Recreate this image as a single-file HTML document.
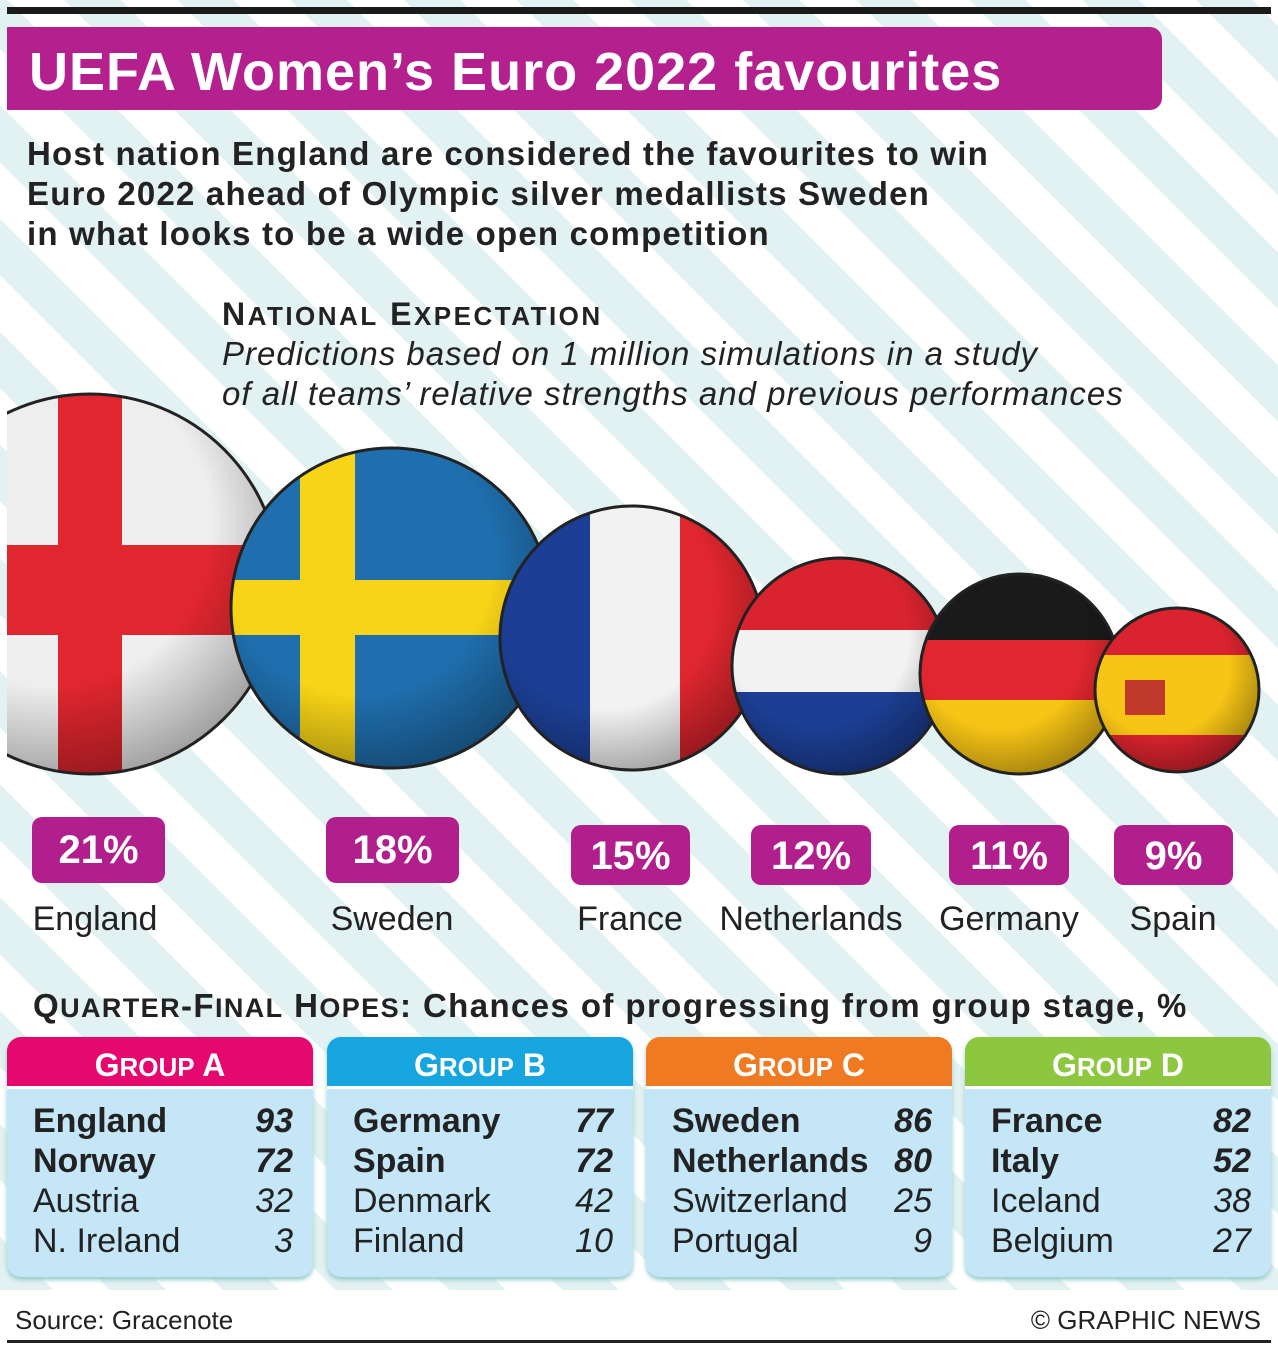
<!DOCTYPE html>
<html><head><meta charset="utf-8"><style>
*{margin:0;padding:0;box-sizing:border-box}
body{width:1278px;height:1350px;position:relative;overflow:hidden;font-family:"Liberation Sans",Arial,sans-serif;color:#222;
background:repeating-linear-gradient(45deg,#fff 0 40px,#e2f1f1 40px 80px);}
.a{position:absolute;white-space:nowrap}
.pill{position:absolute;background:#b01f8c;color:#fff;font-weight:bold;font-size:40px;text-align:center;border-radius:10px;line-height:62px}
.lab{position:absolute;font-size:34px;text-align:center;width:200px}
.g{position:absolute;top:1037px;width:306px;height:240px;border-radius:14px;background:#c4e6f6;box-shadow:0 3px 4px #9cc}
.gh{height:52px;border-radius:14px 14px 0 0;color:#fff;font-weight:bold;font-size:32px;text-align:center;line-height:56px;border-bottom:3px solid #fff}
.row{display:flex;justify-content:space-between;padding:0 20px 0 26px;font-size:34px;line-height:40px}
.row i{font-style:italic}
.b{font-weight:bold}
.gb{padding-top:12px}
</style></head><body>
<div class="a" style="left:7px;top:7px;width:1264px;height:7px;background:#1a1a1a"></div>
<div class="a" style="left:7px;top:27px;width:1155px;height:83px;background:#b5208f;border-radius:0 12px 12px 0;color:#fff;font-weight:bold;font-size:54px;letter-spacing:1px;line-height:90px;padding-left:22px">UEFA Women’s Euro 2022 favourites</div>
<div class="a" style="left:27px;top:134px;font-weight:bold;font-size:33px;letter-spacing:1.2px;line-height:40px">Host nation England are considered the favourites to win<br>Euro 2022 ahead of Olympic silver medallists Sweden<br>in what looks to be a wide open competition</div>
<div class="a" style="left:222px;top:296px;font-weight:bold;font-size:32px;letter-spacing:2.5px">N<span style="font-size:26px">ATIONAL</span> E<span style="font-size:26px">XPECTATION</span></div>
<div class="a" style="left:222px;top:334px;font-style:italic;font-size:33px;letter-spacing:1px;line-height:40px">Predictions based on 1 million simulations in a study<br>of all teams’ relative strengths and previous performances</div>
<svg class="a" style="left:0;top:0" width="1278" height="1350">
<defs>
<clipPath id="c1"><circle cx="90" cy="584" r="190"/></clipPath>
<clipPath id="c2"><circle cx="391" cy="608" r="160"/></clipPath>
<clipPath id="c3"><circle cx="632" cy="638" r="132"/></clipPath>
<clipPath id="c4"><circle cx="840" cy="666" r="108"/></clipPath>
<clipPath id="c5"><circle cx="1020" cy="674" r="100"/></clipPath>
<clipPath id="c6"><circle cx="1177" cy="690" r="82"/></clipPath>
<radialGradient id="sh" cx="0.4" cy="0.35" r="0.7"><stop offset="0.6" stop-color="#000" stop-opacity="0"/><stop offset="1" stop-color="#000" stop-opacity="0.35"/></radialGradient>
<clipPath id="lft"><rect x="7" y="0" width="1271" height="1350"/></clipPath>
</defs>
<g clip-path="url(#lft)">
<g clip-path="url(#c1)"><rect x="-100" y="390" width="400" height="400" fill="#eee"/><rect x="58" y="390" width="64" height="400" fill="#e0262e"/><rect x="-100" y="545" width="400" height="90" fill="#e0262e"/><circle cx="90" cy="584" r="190" fill="url(#sh)"/></g>
<circle cx="90" cy="584" r="190" fill="none" stroke="#222" stroke-width="3"/>
</g>
<g clip-path="url(#c2)"><rect x="230" y="440" width="330" height="340" fill="#1f6fae"/><rect x="300" y="440" width="55" height="340" fill="#f7d417"/><rect x="230" y="580" width="330" height="55" fill="#f7d417"/><circle cx="391" cy="608" r="160" fill="url(#sh)"/></g>
<circle cx="391" cy="608" r="160" fill="none" stroke="#222" stroke-width="3"/>
<g clip-path="url(#c3)"><rect x="500" y="500" width="90" height="280" fill="#1c3f95"/><rect x="590" y="500" width="90" height="280" fill="#f2f2f2"/><rect x="680" y="500" width="90" height="280" fill="#e0262e"/><circle cx="632" cy="638" r="132" fill="url(#sh)"/></g>
<circle cx="632" cy="638" r="132" fill="none" stroke="#222" stroke-width="3"/>
<g clip-path="url(#c4)"><rect x="730" y="555" width="220" height="75" fill="#d9232e"/><rect x="730" y="630" width="220" height="62" fill="#f2f2f2"/><rect x="730" y="692" width="220" height="90" fill="#1c3f95"/><circle cx="840" cy="666" r="108" fill="url(#sh)"/></g>
<circle cx="840" cy="666" r="108" fill="none" stroke="#222" stroke-width="3"/>
<g clip-path="url(#c5)"><rect x="918" y="570" width="205" height="70" fill="#1a1a1a"/><rect x="918" y="640" width="205" height="60" fill="#e0262e"/><rect x="918" y="700" width="205" height="80" fill="#f7c515"/><circle cx="1020" cy="674" r="100" fill="url(#sh)"/></g>
<circle cx="1020" cy="674" r="100" fill="none" stroke="#222" stroke-width="3"/>
<g clip-path="url(#c6)"><rect x="1093" y="605" width="170" height="170" fill="#d9232e"/><rect x="1093" y="655" width="170" height="80" fill="#f7c515"/><rect x="1125" y="680" width="40" height="35" fill="#c0392b"/><circle cx="1177" cy="690" r="82" fill="url(#sh)"/></g>
<circle cx="1177" cy="690" r="82" fill="none" stroke="#222" stroke-width="3"/>
</svg>
<div class="pill" style="left:32px;top:817px;width:133px;height:66px;line-height:66px">21%</div>
<div class="pill" style="left:326px;top:817px;width:133px;height:66px;line-height:66px">18%</div>
<div class="pill" style="left:571px;top:825px;width:119px;height:60px">15%</div>
<div class="pill" style="left:751px;top:825px;width:120px;height:60px">12%</div>
<div class="pill" style="left:949px;top:825px;width:120px;height:60px">11%</div>
<div class="pill" style="left:1114px;top:825px;width:119px;height:60px">9%</div>
<div class="lab" style="left:-5px;top:900px">England</div>
<div class="lab" style="left:292px;top:900px">Sweden</div>
<div class="lab" style="left:530px;top:900px">France</div>
<div class="lab" style="left:711px;top:900px">Netherlands</div>
<div class="lab" style="left:909px;top:900px">Germany</div>
<div class="lab" style="left:1073px;top:900px">Spain</div>
<div class="a" style="left:33px;top:987px;font-weight:bold;font-size:33px;letter-spacing:1.4px">Q<span style="font-size:27px">UARTER</span>-F<span style="font-size:27px">INAL</span> H<span style="font-size:27px">OPES</span>: Chances of progressing from group stage, %</div>
<div class="g" style="left:7px"><div class="gh" style="background:#e5096f">G<span style="font-size:26px">ROUP</span> A</div><div class="gb">
<div class="row b"><span>England</span><i>93</i></div><div class="row b"><span>Norway</span><i>72</i></div><div class="row"><span>Austria</span><i>32</i></div><div class="row"><span>N. Ireland</span><i>3</i></div></div></div>
<div class="g" style="left:327px"><div class="gh" style="background:#16a5de">G<span style="font-size:26px">ROUP</span> B</div><div class="gb">
<div class="row b"><span>Germany</span><i>77</i></div><div class="row b"><span>Spain</span><i>72</i></div><div class="row"><span>Denmark</span><i>42</i></div><div class="row"><span>Finland</span><i>10</i></div></div></div>
<div class="g" style="left:646px"><div class="gh" style="background:#ef7a22">G<span style="font-size:26px">ROUP</span> C</div><div class="gb">
<div class="row b"><span>Sweden</span><i>86</i></div><div class="row b"><span>Netherlands</span><i>80</i></div><div class="row"><span>Switzerland</span><i>25</i></div><div class="row"><span>Portugal</span><i>9</i></div></div></div>
<div class="g" style="left:965px"><div class="gh" style="background:#8dc63f">G<span style="font-size:26px">ROUP</span> D</div><div class="gb">
<div class="row b"><span>France</span><i>82</i></div><div class="row b"><span>Italy</span><i>52</i></div><div class="row"><span>Iceland</span><i>38</i></div><div class="row"><span>Belgium</span><i>27</i></div></div></div>
<div class="a" style="left:0;top:1290px;width:1278px;height:60px;background:#fff"></div>
<div class="a" style="left:15px;top:1305px;font-size:26px">Source: Gracenote</div>
<div class="a" style="right:17px;top:1305px;font-size:26px">© GRAPHIC NEWS</div>
<div class="a" style="left:7px;top:1340px;width:1264px;height:3px;background:#222"></div>
</body></html>
